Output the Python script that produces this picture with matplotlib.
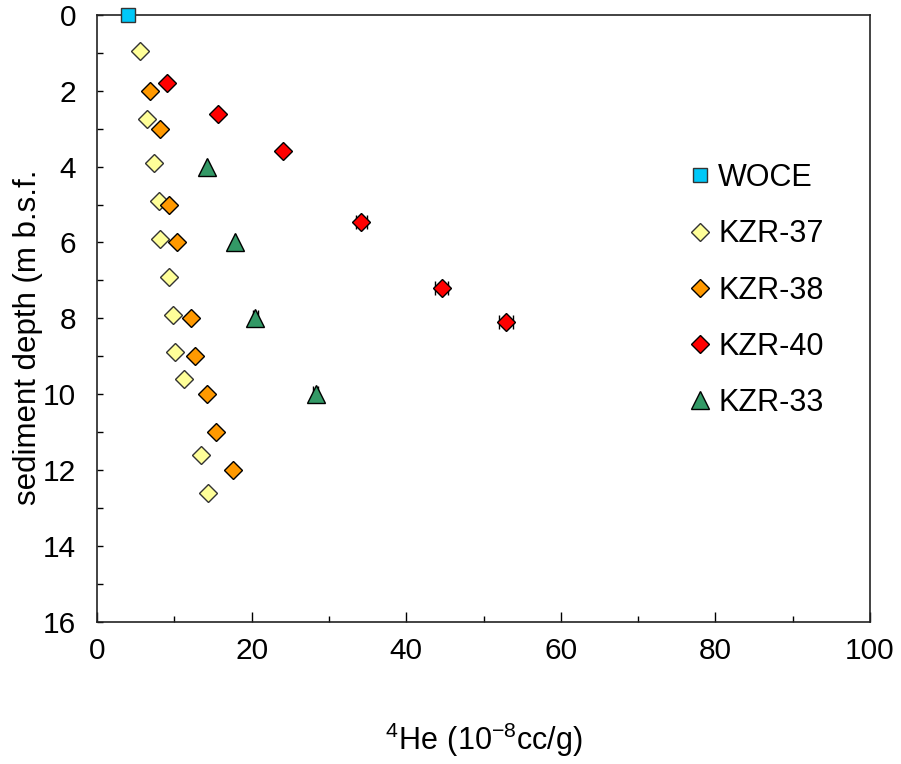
import matplotlib
matplotlib.use('Agg')
import matplotlib.pyplot as plt
from matplotlib import font_manager
from matplotlib.ticker import MultipleLocator


def has_font(name):
    try:
        font_manager.findfont(font_manager.FontProperties(family=name), fallback_to_default=False)
        return True
    except ValueError:
        return False


narrow = 'Liberation Sans Narrow' if has_font('Liberation Sans Narrow') else 'Liberation Sans'
plt.rcParams['font.family'] = ['Liberation Sans', 'DejaVu Sans']
plt.rcParams['mathtext.fontset'] = 'custom'
plt.rcParams['mathtext.rm'] = narrow

# 4He (10^-8 cc/g) vs sediment depth (m)
woce_he = [4.0]
woce_depth = [0.0]

kzr37_he = [5.5, 6.5, 7.4, 8.0, 8.2, 9.3, 9.8, 10.1, 11.2, 13.4, 14.4]
kzr37_depth = [0.95, 2.75, 3.9, 4.9, 5.9, 6.9, 7.9, 8.9, 9.6, 11.6, 12.6]

kzr38_he = [6.9, 8.2, 9.3, 10.4, 12.2, 12.7, 14.2, 15.4, 17.6]
kzr38_depth = [2.0, 3.0, 5.0, 6.0, 8.0, 9.0, 10.0, 11.0, 12.0]

kzr40_he = [9.1, 15.6, 24.0, 34.2, 44.6, 52.9]
kzr40_depth = [1.8, 2.6, 3.6, 5.45, 7.2, 8.1]
kzr40_err = [0.0, 0.0, 0.0, 0.7, 0.85, 0.9]

kzr33_he = [14.2, 17.8, 20.5, 28.3]
kzr33_depth = [4.0, 6.0, 8.0, 10.0]
kzr33_err = [0.0, 0.0, 0.35, 0.35]

fig = plt.figure(figsize=(9.01, 7.64), dpi=100)
ax = fig.add_axes([0.1077, 0.1863, 0.8579, 0.7941])

h_woce, = ax.plot(woce_he, woce_depth, 's', ms=9.5, mfc='#00C8F8', mec='#333333', mew=1.0,
                  ls='none', label='WOCE', zorder=5, clip_on=False)
h37, = ax.plot(kzr37_he, kzr37_depth, 'D', ms=9.3, mfc='#FFFF99', mec='#333333', mew=1.0,
               ls='none', label='KZR-37', zorder=4)
h38, = ax.plot(kzr38_he, kzr38_depth, 'D', ms=9.3, mfc='#FF9900', mec='black', mew=1.0,
               ls='none', label='KZR-38', zorder=4)
eb40 = ax.errorbar(kzr40_he, kzr40_depth, xerr=kzr40_err, fmt='D', ms=9.3, mfc='#FF0000',
                   mec='black', mew=1.0, ecolor='black', elinewidth=0.8, capsize=4.7,
                   capthick=0.8, label='KZR-40', zorder=4)
eb33 = ax.errorbar(kzr33_he, kzr33_depth, xerr=kzr33_err, fmt='^', ms=12.5, mfc='#339966',
                   mec='black', mew=1.0, ecolor='black', elinewidth=0.8, capsize=5.5,
                   capthick=0.8, label='KZR-33', zorder=4)

ax.set_xlim(0, 100)
ax.set_ylim(16, 0)
ax.xaxis.set_major_locator(MultipleLocator(20))
ax.xaxis.set_minor_locator(MultipleLocator(10))
ax.yaxis.set_major_locator(MultipleLocator(2))
ax.yaxis.set_minor_locator(MultipleLocator(1))

for s in ax.spines.values():
    s.set_linewidth(1.2)
    s.set_color('#222222')

ax.tick_params(axis='x', which='major', direction='in', length=7, width=1, pad=11)
ax.tick_params(axis='x', which='minor', direction='in', length=4.5, width=1)
ax.tick_params(axis='y', which='both', direction='in', length=4.5, width=1, pad=15)
for lab in ax.get_xticklabels() + ax.get_yticklabels():
    lab.set_fontfamily([narrow, 'DejaVu Sans'])
    lab.set_fontsize(21.5)

ax.set_xlabel(r'$\mathrm{^{4}He\ (10^{-8}cc/g)}$', fontsize=22)
ax.xaxis.set_label_coords(0.5, -0.195)
ax.xaxis.label.set_va('center')
ax.set_ylabel('sediment depth (m b.s.f.', fontsize=22.5)
ax.yaxis.set_label_coords(-0.089, 0.469)
ax.yaxis.label.set_va('center')

ax.legend(handles=[h_woce, h37, h38, eb40[0], eb33[0]],
          labels=['WOCE', 'KZR-37', 'KZR-38', 'KZR-40', 'KZR-33'],
          loc='upper left', bbox_to_anchor=(0.768, 0.756), frameon=False,
          fontsize=22, numpoints=1, handlelength=0.6, handletextpad=0.3,
          labelspacing=0.86, borderpad=0, borderaxespad=0)

fig.savefig('out.png', dpi=100)
